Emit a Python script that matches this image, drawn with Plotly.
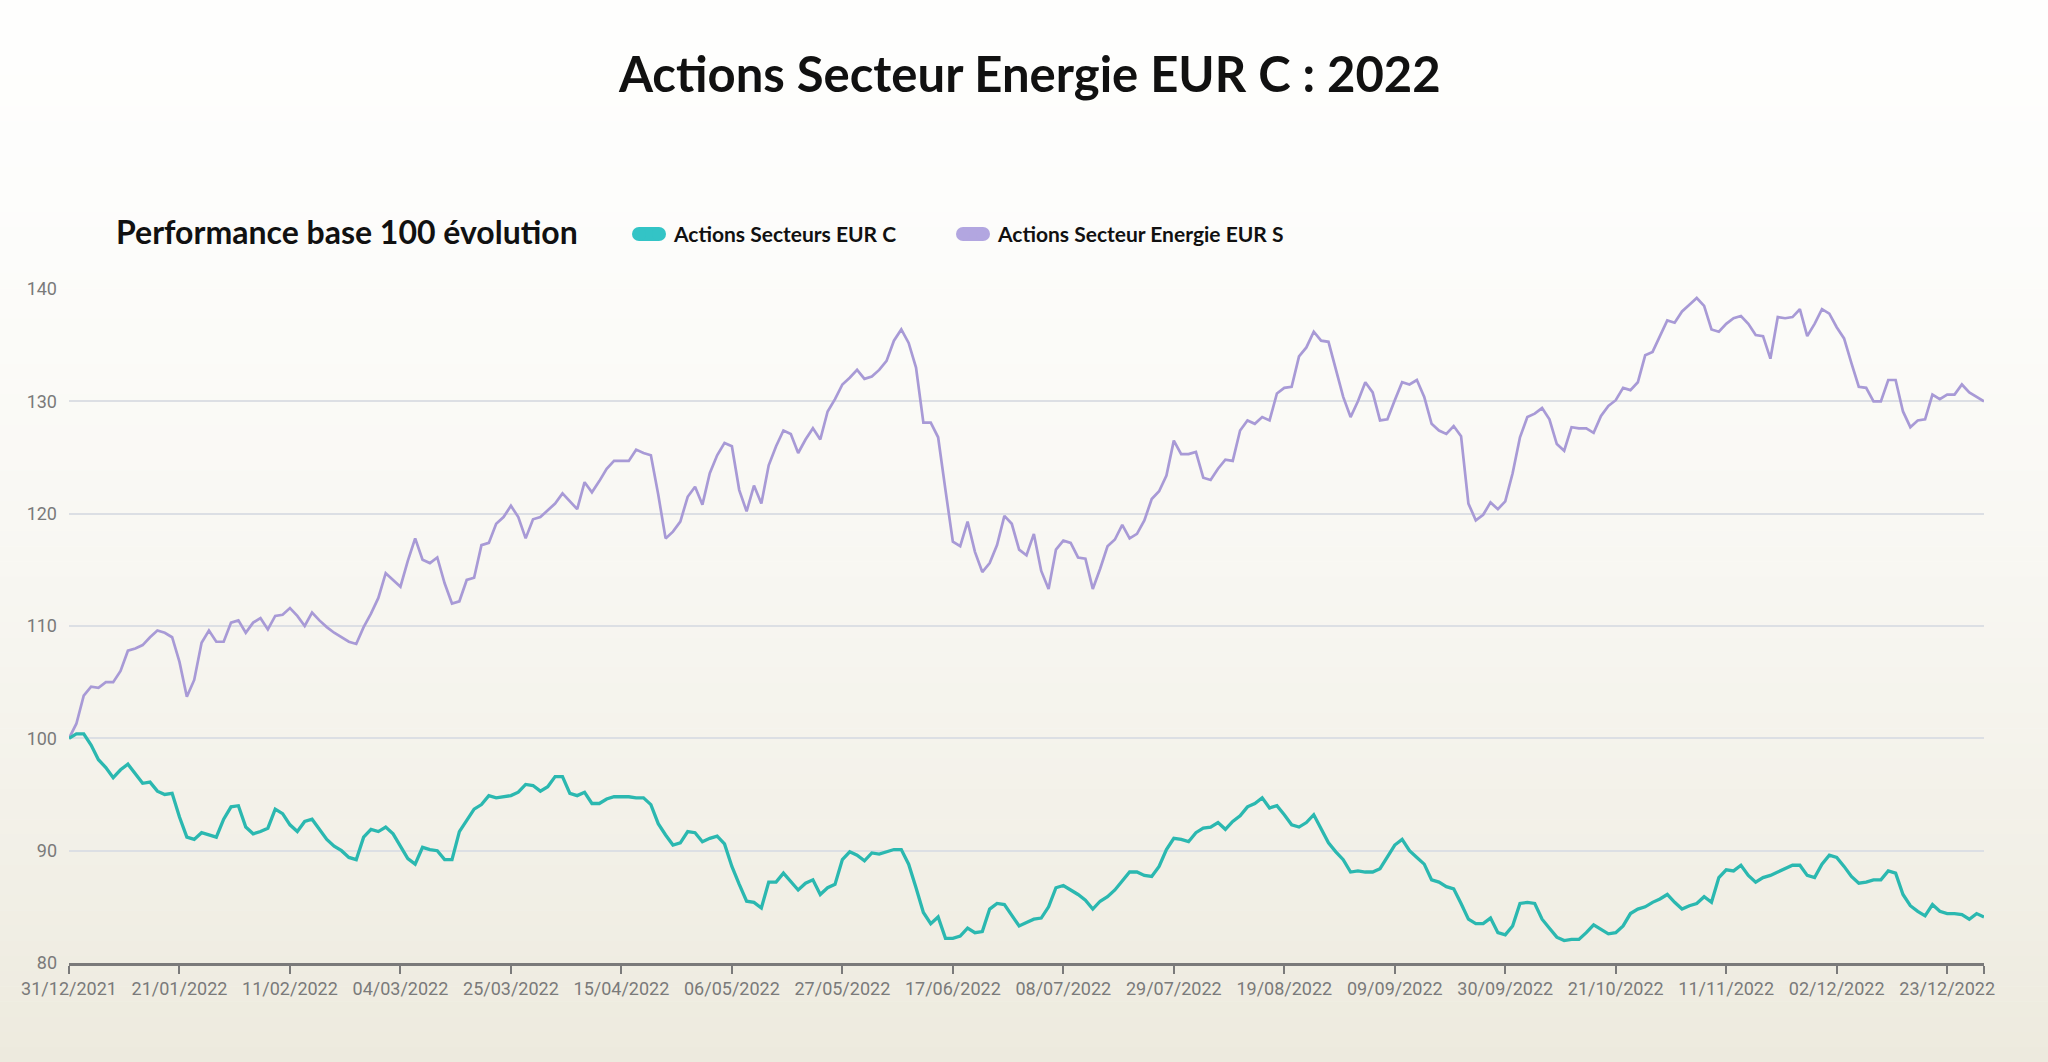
import pandas as pd
import plotly.graph_objects as go

# ---------------- data ----------------
start_date = "2021-12-31"
end_date = "2022-12-30"

energie_s = [
    100.0, 101.3, 103.8, 104.6, 104.5, 105.0, 105.0, 106.0, 107.8, 108.0,
    108.3, 109.0, 109.6, 109.4, 109.0, 106.8, 103.7, 105.2, 108.5, 109.6,
    108.6, 108.6, 110.3, 110.5, 109.4, 110.3, 110.7, 109.7, 110.9, 111.0,
    111.6, 110.9, 110.0, 111.2, 110.5, 109.9, 109.4, 109.0, 108.6, 108.4,
    109.9, 111.1, 112.5, 114.7, 114.1, 113.5, 115.8, 117.8, 115.9, 115.6,
    116.1, 113.8, 112.0, 112.2, 114.1, 114.3, 117.2, 117.4, 119.1, 119.7,
    120.7, 119.7, 117.8, 119.5, 119.7, 120.3, 120.9, 121.8, 121.1, 120.4,
    122.8, 121.9, 122.9, 124.0, 124.7, 124.7, 124.7, 125.7, 125.4, 125.2,
    121.7, 117.8, 118.4, 119.3, 121.5, 122.4, 120.8, 123.6, 125.2, 126.3,
    126.0, 122.1, 120.2, 122.5, 120.9, 124.3, 126.0, 127.4, 127.1, 125.4,
    126.6, 127.6, 126.6, 129.1, 130.2, 131.5, 132.1, 132.8, 132.0, 132.2,
    132.8, 133.6, 135.4, 136.4, 135.2, 133.0, 128.1, 128.1, 126.8, 122.1,
    117.5, 117.1, 119.3, 116.6, 114.8, 115.6, 117.2, 119.8, 119.1, 116.8,
    116.3, 118.2, 114.9, 113.3, 116.8, 117.6, 117.4, 116.1, 116.0, 113.3,
    115.1, 117.1, 117.7, 119.0, 117.8, 118.2, 119.4, 121.3, 122.0, 123.4,
    126.5, 125.3, 125.3, 125.5, 123.2, 123.0, 124.0, 124.8, 124.7, 127.4,
    128.3, 128.0, 128.6, 128.3, 130.7, 131.2, 131.3, 134.0, 134.8, 136.2,
    135.4, 135.3, 132.8, 130.4, 128.6, 130.0, 131.7, 130.8, 128.3, 128.4,
    130.1, 131.7, 131.5, 131.9, 130.4, 128.0, 127.4, 127.1, 127.8, 126.9,
    120.9, 119.4, 119.9, 121.0, 120.4, 121.1, 123.6, 126.8, 128.6, 128.9,
    129.4, 128.4, 126.2, 125.6, 127.7, 127.6, 127.6, 127.2, 128.7, 129.6,
    130.1, 131.2, 131.0, 131.7, 134.1, 134.4, 135.8, 137.2, 137.0, 138.0,
    138.6, 139.2, 138.5, 136.4, 136.2, 136.9, 137.4, 137.6, 136.9, 135.9,
    135.8, 133.8, 137.5, 137.4, 137.5, 138.2, 135.8, 136.9, 138.2, 137.8,
    136.6, 135.6, 133.4, 131.3, 131.2, 130.0, 130.0, 131.9, 131.9, 129.1,
    127.7, 128.3, 128.4, 130.6, 130.2, 130.6, 130.6, 131.5, 130.8, 130.4, 130.0,
]

secteurs_c = [
    100.0, 100.4, 100.4, 99.4, 98.1, 97.4, 96.5, 97.2, 97.7, 96.9,
    96.0, 96.1, 95.3, 95.0, 95.1, 93.0, 91.2, 91.0, 91.6, 91.4,
    91.2, 92.8, 93.9, 94.0, 92.1, 91.5, 91.7, 92.0, 93.7, 93.3,
    92.3, 91.7, 92.6, 92.8, 91.9, 91.0, 90.4, 90.0, 89.4, 89.2,
    91.2, 91.9, 91.7, 92.1, 91.5, 90.4, 89.3, 88.8, 90.3, 90.1,
    90.0, 89.2, 89.2, 91.7, 92.7, 93.7, 94.1, 94.9, 94.7, 94.8,
    94.9, 95.2, 95.9, 95.8, 95.3, 95.7, 96.6, 96.6, 95.1, 94.9,
    95.2, 94.2, 94.2, 94.6, 94.8, 94.8, 94.8, 94.7, 94.7, 94.1,
    92.4, 91.4, 90.5, 90.7, 91.7, 91.6, 90.8, 91.1, 91.3, 90.6,
    88.6, 87.0, 85.5, 85.4, 84.9, 87.2, 87.2, 88.0, 87.2, 86.5,
    87.1, 87.4, 86.1, 86.7, 87.0, 89.2, 89.9, 89.6, 89.1, 89.8,
    89.7, 89.9, 90.1, 90.1, 88.8, 86.7, 84.5, 83.5, 84.1, 82.2,
    82.2, 82.4, 83.1, 82.7, 82.8, 84.8, 85.3, 85.2, 84.3, 83.3,
    83.6, 83.9, 84.0, 85.0, 86.7, 86.9, 86.5, 86.1, 85.6, 84.8,
    85.5, 85.9, 86.5, 87.3, 88.1, 88.1, 87.8, 87.7, 88.6, 90.1,
    91.1, 91.0, 90.8, 91.6, 92.0, 92.1, 92.5, 91.9, 92.6, 93.1,
    93.9, 94.2, 94.7, 93.8, 94.0, 93.2, 92.3, 92.1, 92.5, 93.2,
    91.9, 90.7, 89.9, 89.2, 88.1, 88.2, 88.1, 88.1, 88.4, 89.4,
    90.5, 91.0, 90.0, 89.4, 88.8, 87.4, 87.2, 86.8, 86.6, 85.3,
    83.9, 83.5, 83.5, 84.0, 82.7, 82.5, 83.3, 85.3, 85.4, 85.3,
    83.9, 83.1, 82.3, 82.0, 82.1, 82.1, 82.7, 83.4, 83.0, 82.6,
    82.7, 83.3, 84.4, 84.8, 85.0, 85.4, 85.7, 86.1, 85.4, 84.8,
    85.1, 85.3, 85.9, 85.4, 87.6, 88.3, 88.2, 88.7, 87.8, 87.2,
    87.6, 87.8, 88.1, 88.4, 88.7, 88.7, 87.8, 87.6, 88.8, 89.6,
    89.4, 88.6, 87.7, 87.1, 87.2, 87.4, 87.4, 88.2, 88.0, 86.1,
    85.1, 84.6, 84.2, 85.2, 84.6, 84.4, 84.4, 84.3, 83.9, 84.4, 84.1,
]

y_ticks = [80, 90, 100, 110, 120, 130, 140]
title_text = "Actions Secteur Energie EUR C : 2022"
subtitle_text = "Performance base 100 évolution"
name_c = "Actions Secteurs EUR C"
name_s = "Actions Secteur Energie EUR S"

# ---------------- styling ----------------
W, H = 2048, 1062
ML, MR, MT, MB = 69, 64, 289, 99
PW, PH = W - ML - MR, H - MT - MB

TEAL = "#2bb8b0"
PURPLE = "#a89ad6"
TEAL_PILL = "#33c4c6"
PURPLE_PILL = "#b2a6e0"
TICK_FONT = dict(family="Roboto, sans-serif", size=18, color="#7a7a7a")
LATO = "Lato, Noto Sans, sans-serif"


def px_x(px):
    return (px - ML) / PW


def px_y(py):
    return (H - MB - py) / PH


dates = pd.bdate_range(start_date, end_date)
tickvals = list(pd.date_range(start_date, periods=18, freq="21D")) + [pd.Timestamp(end_date)]
ticktext = [d.strftime("%d/%m/%Y") for d in tickvals[:-1]] + [""]

fig = go.Figure()
fig.add_trace(go.Scatter(x=dates, y=energie_s, mode="lines", name=name_s,
                         line=dict(color=PURPLE, width=2.7), showlegend=False))
fig.add_trace(go.Scatter(x=dates, y=secteurs_c, mode="lines", name=name_c,
                         line=dict(color=TEAL, width=3.3), showlegend=False))

shapes = []
# background gradient (white top -> warm beige bottom)
top_c = (254, 254, 253)
bot_c = (237, 234, 222)
n_bands = 70
for k in range(n_bands):
    y0p = H * k / n_bands
    y1p = H * (k + 1) / n_bands
    t = ((k + 0.5) / n_bands) ** 1.6
    c = tuple(round(top_c[j] + (bot_c[j] - top_c[j]) * t) for j in range(3))
    shapes.append(dict(type="rect", xref="paper", yref="paper", layer="below",
                       x0=px_x(0), x1=px_x(W), y0=px_y(y1p + 0.5), y1=px_y(y0p),
                       line=dict(width=0), fillcolor="rgb(%d,%d,%d)" % c))

# legend pills
def pill(cx, cy, color):
    out = []
    common = dict(xref="paper", yref="paper", xsizemode="pixel", ysizemode="pixel",
                  xanchor=px_x(cx), yanchor=px_y(cy), line=dict(width=0), fillcolor=color,
                  layer="above")
    out.append(dict(type="rect", x0=-10, x1=10, y0=-7, y1=7, **common))
    out.append(dict(type="circle", x0=-17, x1=-3, y0=-7, y1=7, **common))
    out.append(dict(type="circle", x0=3, x1=17, y0=-7, y1=7, **common))
    return out

shapes += pill(649, 234, TEAL_PILL)
shapes += pill(973, 234, PURPLE_PILL)

annotations = [
    dict(text=title_text, xref="paper", yref="paper", x=px_x(1029), y=px_y(73),
         xanchor="center", yanchor="middle", showarrow=False,
         font=dict(family=LATO, size=49, color="#111111", weight=700)),
    dict(text=subtitle_text, xref="paper", yref="paper", x=px_x(114), y=px_y(231),
         xanchor="left", yanchor="middle", showarrow=False,
         font=dict(family=LATO, size=32, color="#111111", weight=700)),
    dict(text=name_c, xref="paper", yref="paper", x=px_x(671), y=px_y(233),
         xanchor="left", yanchor="middle", showarrow=False,
         font=dict(family=LATO, size=21, color="#111111", weight=700)),
    dict(text=name_s, xref="paper", yref="paper", x=px_x(995), y=px_y(233),
         xanchor="left", yanchor="middle", showarrow=False,
         font=dict(family=LATO, size=21, color="#111111", weight=700)),
]

fig.update_layout(
    width=W, height=H,
    margin=dict(l=ML, r=MR, t=MT, b=MB, pad=0),
    paper_bgcolor="#ffffff",
    plot_bgcolor="rgba(0,0,0,0)",
    shapes=shapes,
    annotations=annotations,
    showlegend=False,
    hovermode=False,
)
fig.update_xaxes(
    type="date", range=[start_date, end_date],
    rangebreaks=[dict(bounds=["sat", "mon"])],
    tickmode="array", tickvals=tickvals, ticktext=ticktext,
    ticks="outside", ticklen=8, tickwidth=2, tickcolor="#7a7a7a",
    showline=True, linecolor="#7a7a7a", linewidth=2.5,
    showgrid=False, zeroline=False, tickfont=TICK_FONT, ticklabelstandoff=0,
)
fig.update_yaxes(
    range=[80, 140], tickmode="array", tickvals=y_ticks,
    showgrid=True, gridcolor="#dcdfe4", gridwidth=1.6,
    showline=False, zeroline=False, ticks="", tickfont=TICK_FONT,
    ticklabelstandoff=11,
)

fig.write_html("out.html", config={"displayModeBar": False},
               post_script="document.body.style.margin='0px';")
